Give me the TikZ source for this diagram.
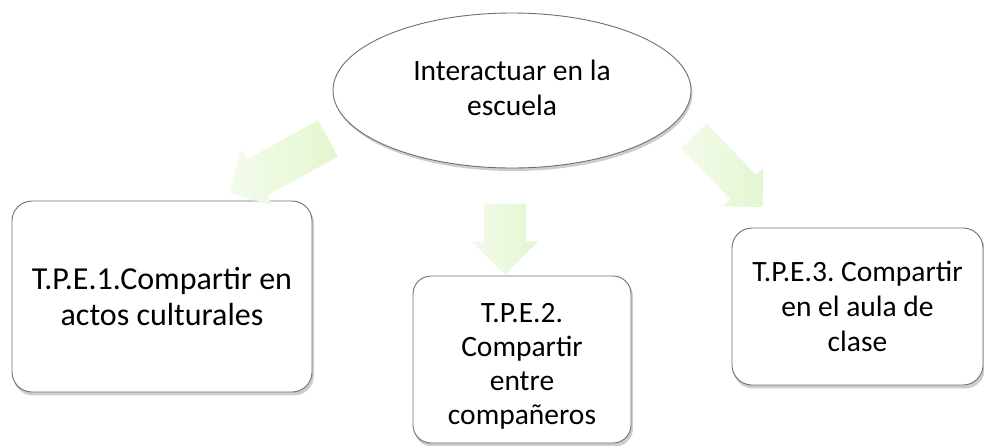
\documentclass[tikz,border=0pt]{standalone}
\usepackage{fontspec}
\setmainfont{Carlito}
\usetikzlibrary{shapes.geometric,shapes.arrows,backgrounds}
\definecolor{tailgreen}{RGB}{243,251,235}
\definecolor{tipgreen}{RGB}{227,246,208}
\definecolor{edgegray}{RGB}{112,112,112}
\definecolor{shadegray}{RGB}{205,205,205}
\tikzset{
    task box/.style={draw=edgegray, line width=0.9pt, fill=white, rounded corners=20pt,
        align=center, inner sep=0pt, font=\fontsize{29.5}{35}\selectfont},
    fat arrow/.style={single arrow, single arrow tip angle=90, inner xsep=0pt, draw=none,
        left color=tailgreen, right color=tipgreen}
}

\begin{document}
\frenchspacing
\begin{tikzpicture}[x=1pt,y=-1pt]
\useasboundingbox (0,0) rectangle (984,445);

% ========= Centre =========
\node[ellipse, draw=edgegray, line width=0.9pt, fill=white, inner sep=0pt,
    minimum width=358pt, minimum height=155pt, align=center,
    font=\fontsize{29.5}{35}\selectfont]
    (escuela) at (512,90.5) {Interactuar en la\\escuela\rule[-6pt]{0pt}{0pt}};

% ========= Tasks =========
\node[task box, minimum width=300pt, minimum height=191pt, font=\fontsize{32}{36}\selectfont] (tpe1) at (162,296.5)
    {T.P.E.1.Compartir en\\actos culturales};
\node[task box, minimum width=218pt, minimum height=167pt, rounded corners=18pt,
    font=\fontsize{29.5}{34}\selectfont] (tpe2) at (522,359.5)
    {\rule{0pt}{32pt}T.P.E.2.\\Compartir\\entre\\compañeros};
\node[task box, minimum width=251pt, minimum height=157pt] (tpe3) at (857.5,306.5)
    {T.P.E.3. Compartir\\en el aula de\\clase};

% ========= Arrows =========
\node[fat arrow, rotate=208.8, minimum height=113pt, inner ysep=20.5pt,
    single arrow head extend=11.5pt] (arr1) at (287.5,160.7) {};
\node[fat arrow, rotate=270, minimum height=71pt, inner ysep=21pt,
    single arrow head extend=12pt] (arr2) at (505,228.5) {};
\node[fat arrow, rotate=-46, minimum height=99pt, inner ysep=17.5pt,
    single arrow head extend=10pt] (arr3) at (722,165) {};

% ========= Shadows =========
\begin{scope}[on background layer]
    \fill[shadegray] ([shift={(1.5,3)}]escuela.center) ellipse [x radius=179, y radius=77.5];
    \foreach \B/\R in {tpe1/20, tpe2/18, tpe3/20}
        \fill[shadegray, rounded corners=\R pt] ([shift={(1.5,3)}]\B.south west) rectangle ([shift={(1.5,3)}]\B.north east);
\end{scope}

\end{tikzpicture}
\end{document}
